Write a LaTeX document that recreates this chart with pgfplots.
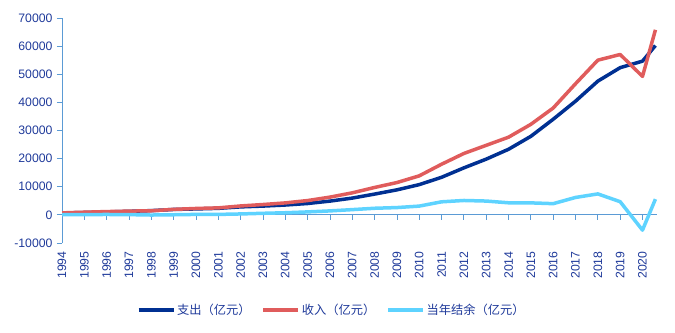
\documentclass[border=0pt]{standalone}
\usepackage{fontspec}
\setmainfont{Liberation Sans}
\newfontfamily\cjk{Noto Sans CJK SC}
\usepackage{pgfplots}
\pgfplotsset{compat=1.18}
\usepackage{pgfplotstable}
\definecolor{cExp}{HTML}{003092}
\definecolor{cInc}{HTML}{E05C5C}
\definecolor{cBal}{HTML}{5ED3FF}
\definecolor{axc}{HTML}{5B9BD5}
\definecolor{lbl}{HTML}{1F3A9A}

% x = year - 1994
\pgfplotstableread{
x exp inc bal
0 661 707 46
1 847 950 103
2 1032 1172 140
3 1251 1338 87
4 1512 1459 -53
5 1925 1965 40
6 2115 2278 163
7 2321 2489 168
8 2843 3172 329
9 3122 3680 558
10 3502 4258 756
11 4040 5093 1053
12 4897 6310 1413
13 5965 7834 1869
14 7390 9740 2350
15 8894 11491 2597
16 10755 13873 3118
17 13363 18005 4642
18 16712 21830 5118
19 19819 24733 4914
20 23326 27620 4294
21 27929 32195 4266
22 34004 37991 3987
23 40424 46614 6190
24 47550 55005 7455
25 52342 57026 4684
26 54656 49229 -5427
26.58 60197 65793 5596
}\data

\begin{document}
\begin{tikzpicture}
\useasboundingbox (0,0) rectangle (675bp,333bp);
\begin{axis}[
  at={(62bp,90bp)}, anchor=south west,
  scale only axis, width=595bp, height=225bp,
  xmin=0, xmax=26.65, ymin=-10000, ymax=70000,
  axis y line*=left, axis x line*=bottom,
  x axis line style={draw=none},
  y axis line style={draw=axc, line width=0.8pt},
  ytick={-10000,0,10000,20000,30000,40000,50000,60000,70000},
  xtick={0,...,26},
  xticklabels={1994,1995,1996,1997,1998,1999,2000,2001,2002,2003,2004,2005,2006,2007,2008,2009,2010,2011,2012,2013,2014,2015,2016,2017,2018,2019,2020},
  tick align=outside,
  major tick length=5bp,
  ytick style={draw=axc, line width=0.8pt},
  xtick style={draw=none},
  scaled ticks=false,
  tick label style={font=\fontsize{12.3}{14}\selectfont, text=lbl},
  xticklabel style={rotate=90, anchor=east},
  yticklabel style={xshift=-1bp},
  /pgf/number format/1000 sep={},
  /pgf/number format/assume math mode=true,
  legend columns=3,
  legend style={at={(0.4535,-0.298)}, anchor=center, draw=none, fill=none,
    font=\fontsize{12.3}{14}\selectfont\cjk, text=lbl,
    /tikz/every even column/.append style={column sep=9bp}},
  legend image code/.code={\draw[#1, line width=3.2bp] (0bp,0bp) -- (35bp,0bp);},
]
\draw[axc, line width=0.8pt] (axis cs:0,0) -- (axis cs:26.65,0);
\pgfplotsinvokeforeach{1,...,26}{\draw[axc, line width=0.8pt] (axis cs:#1,0) -- ++(0bp,-5bp);}
\addplot[cExp, line width=3.5bp, line join=round] table[x=x, y=exp] {\data};
\addlegendentry{支出（亿元）}
\addplot[cInc, line width=3.5bp, line join=round] table[x=x, y=inc] {\data};
\addlegendentry{收入（亿元）}
\addplot[cBal, line width=3.5bp, line join=round] table[x=x, y=bal] {\data};
\addlegendentry{当年结余（亿元）}
\end{axis}
\end{tikzpicture}
\end{document}
